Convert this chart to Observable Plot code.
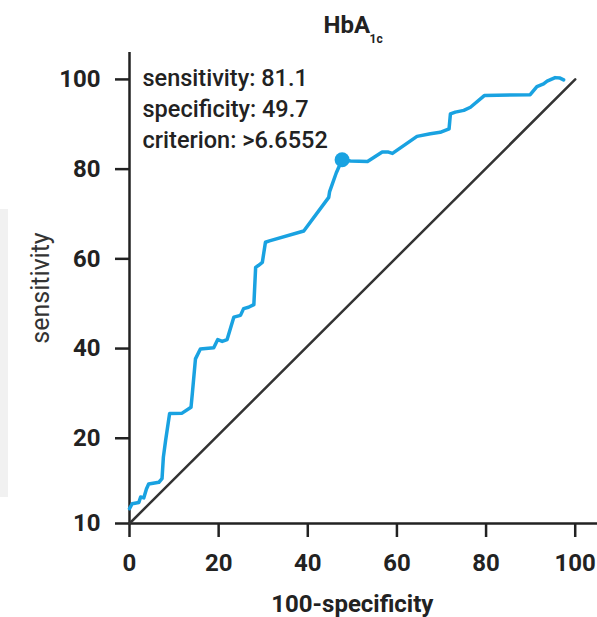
<!DOCTYPE html>
<html>
<head>
<meta charset="utf-8">
<script src="https://cdn.jsdelivr.net/npm/d3@7"></script>
<script src="https://cdn.jsdelivr.net/npm/@observablehq/plot@0.6"></script>
<style>
  html, body { margin: 0; padding: 0; background: #fff; }
  #wrap { position: relative; width: 597px; height: 617px; overflow: hidden; }
  #side { position: absolute; left: 0; top: 209px; width: 8px; height: 288px; background: #f1f1f1; }
  #chart { position: absolute; left: 0; top: 0; }
</style>
</head>
<body>
<div id="wrap"><div id="side"></div><div id="chart"></div></div>
<script>
// ROC curve points (100-specificity, sensitivity)
const rocX = [0, 0.6, 2.1, 2.5, 3.2, 3.8, 4.3, 6.6, 7.3, 7.6, 8.1, 9.0, 11.8, 13.8, 14.1, 14.8, 15.9, 18.9, 19.8, 20.8, 21.9, 23.4, 24.9, 25.6, 26.7, 27.9, 28.3, 28.9, 29.8, 30.5, 31.4, 39.1, 44.7, 44.9, 46.4, 47.7, 49.6, 53.4, 56.7, 58.1, 59.0, 64.5, 67.5, 69.7, 71.7, 72.0, 73.1, 75.0, 76.5, 79.6, 89.9, 91.4, 92.9, 93.7, 95.5, 96.6, 97.4];
const rocY = [4.3, 5.4, 5.7, 6.9, 6.7, 8.7, 9.8, 10.2, 11.0, 15.8, 19.5, 25.5, 25.6, 26.9, 30.0, 37.7, 39.9, 40.2, 42.0, 41.6, 42.0, 47.0, 47.4, 48.9, 49.2, 49.8, 58.1, 58.5, 59.2, 63.7, 64.0, 66.2, 73.7, 75.0, 79.2, 82.1, 81.8, 81.7, 83.8, 83.8, 83.5, 87.3, 87.9, 88.2, 89.0, 92.3, 92.7, 93.1, 93.8, 96.4, 96.6, 98.4, 99.0, 99.6, 100.4, 100.3, 99.9];
// reference (chance) line
const diagX = [0, 100];
const diagY = [1, 100];
// optimal criterion point
const cutX = [47.7];
const cutY = [82.1];
const annotation = ["sensitivity: 81.1", "specificity: 49.7", "criterion: >6.6552"];
// ticks
const xTicks = [0, 20, 40, 60, 80, 100];
const yTicks = [1, 20, 40, 60, 80, 100];
const yTickLabels = ["10", "20", "40", "60", "80", "100"];
const titleMain = "HbA";
const titleSub = "1c";
const xLabel = "100-specificity";
const yLabel = "sensitivity";

const roc = rocX.map((x, i) => ({x, y: rocY[i]}));
const diag = diagX.map((x, i) => ({x, y: diagY[i]}));
const cut = cutX.map((x, i) => ({x, y: cutY[i]}));

const FONT = "Roboto, 'Liberation Sans', sans-serif";
const BLUE = "#19a2e1";
const INK = "#222";

const chart = Plot.plot({
  width: 597,
  height: 617,
  marginTop: 52,
  marginBottom: 94,
  marginLeft: 129,
  marginRight: 0,
  style: {fontFamily: FONT, color: INK, background: "transparent"},
  x: {domain: [0, 105], ticks: xTicks},
  y: {domain: [1, 106], ticks: yTicks},
  marks: [
    Plot.axisX({ticks: xTicks, tickSize: 14, tickPadding: 16, fontSize: 24, fontWeight: "bold", strokeWidth: 2.5, label: null, fill: INK, stroke: INK}),
    Plot.axisY({ticks: yTicks, tickFormat: d => yTickLabels[yTicks.indexOf(d)], tickSize: 14, tickPadding: 15, fontSize: 24, fontWeight: "bold", strokeWidth: 2.5, label: null, fill: INK, stroke: INK}),
    Plot.ruleX([0], {stroke: INK, strokeWidth: 2.5}),
    Plot.ruleY([1], {stroke: INK, strokeWidth: 2.5}),
    Plot.line(diag, {x: "x", y: "y", stroke: "#333", strokeWidth: 2.5}),
    Plot.line(roc, {x: "x", y: "y", stroke: BLUE, strokeWidth: 3.5, strokeLinejoin: "round"}),
    Plot.dot(cut, {x: "x", y: "y", r: 7.5, fill: BLUE, stroke: "none"}),
    Plot.text([annotation.join("\n")], {frameAnchor: "top-left", dx: 13, dy: 11, lineAnchor: "top", textAnchor: "start", fontSize: 23.5, lineHeight: 1.33, fill: INK, fontWeight: 500}),
    Plot.text([titleMain], {frameAnchor: "top-left", dx: 194, dy: -20, lineAnchor: "bottom", textAnchor: "start", fontSize: 24, fontWeight: "bold", fill: INK}),
    Plot.text([titleSub], {frameAnchor: "top-left", dx: 240, dy: -10, lineAnchor: "bottom", textAnchor: "start", fontSize: 12, fontWeight: "bold", fill: INK}),
    Plot.text([xLabel], {x: 50, frameAnchor: "bottom", dy: 88, lineAnchor: "bottom", textAnchor: "middle", fontSize: 24, fontWeight: "bold", fill: INK}),
    Plot.text([yLabel], {frameAnchor: "left", dx: -89, rotate: -90, lineAnchor: "middle", textAnchor: "middle", fontSize: 25, fill: "#333"})
  ]
});
document.getElementById("chart").appendChild(chart);
</script>
</body>
</html>
